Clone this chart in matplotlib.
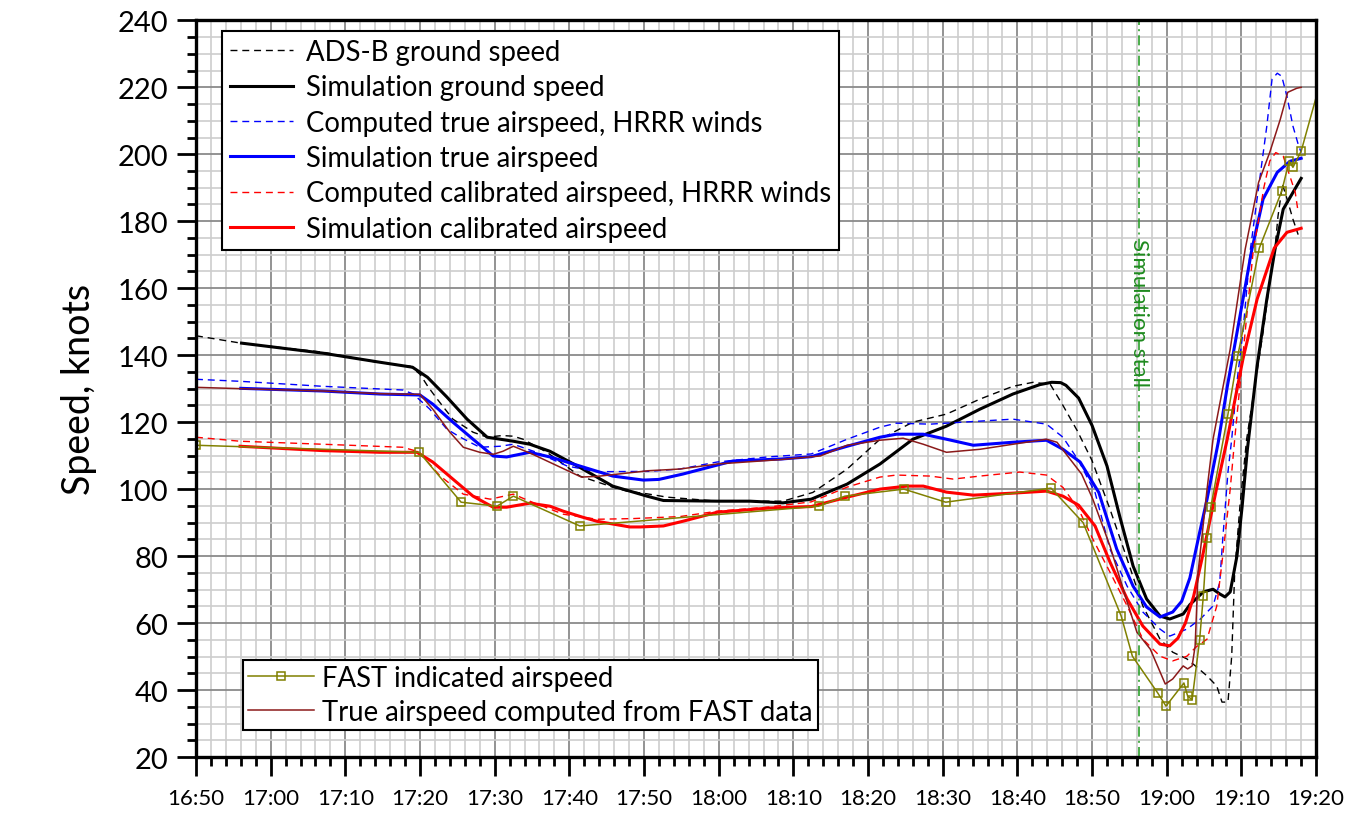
import matplotlib
matplotlib.use('Agg')
import matplotlib.pyplot as plt
from matplotlib.ticker import MultipleLocator, FuncFormatter

plt.rcParams['font.family'] = ['Lato', 'DejaVu Sans']

# time in minutes after 16:50, speed in knots
T0 = 16 * 60 + 50

adsb_t = [0, 6, 17, 24.2, 28.7, 30.0, 31.1, 32.3, 34.4, 37.1, 39, 41, 42.5, 43.8, 47.0, 51.4, 55.8,
          57.7, 60.4, 63.1, 69.8, 78.6, 82.6, 87.2, 91.6, 96.0, 100.5, 105, 109.4, 112.1, 114.4,
          116.1, 118.0, 120.0, 122.4, 124.7, 126.8, 129.1, 130.8, 132.7, 134.0, 135.4, 136.7,
          137.4, 138.2, 138.7, 139.1, 139.8, 140.7, 142.9, 143.8, 144.5, 144.9, 145.5, 146.2,
          146.9, 147.6]
adsb_v = [145.8, 143.6, 140.9, 137.9, 136.7, 134.3, 130.5, 126.9, 120.9, 117.0, 115.5, 116.0, 115.8,
          114.9, 111.0, 103.9, 100.6, 99.4, 98.6, 97.6, 96.4, 96.4, 99.0, 106, 114.9, 120, 122.4,
          126.9, 130.7, 131.9, 131.3, 125, 117.5, 108.5, 94, 79.1, 65.1, 55.2, 51.3, 49.3, 46.9,
          44.2, 41.2, 36.4, 36.4, 50.1, 75.2, 94.9, 114.9, 146.9, 161.8, 172, 181.5, 191, 186,
          180.6, 176]

sim_gs_t = [6.1, 17, 24.6, 29, 31, 33.6, 36.3, 39, 42.5, 44.7, 47.4, 51.4, 55.8, 60.4, 62.6, 69.8,
            74.2, 78.6, 82.4, 87.2, 91.6, 96.0, 100.5, 105.0, 109.4, 113.0, 114.6, 115.8, 116.5,
            118.2, 120.0, 122.0, 123.7, 125.5, 127.3, 129.1, 130.4, 132.2, 133.1, 134.9, 136.2,
            137.1, 137.8, 138.5, 139.4, 140.1, 140.8, 142.1, 143.4, 144.5, 145.6, 148.0]
sim_gs_v = [143.6, 140.6, 137.9, 136.4, 133.4, 127.5, 120.9, 115.5, 114.3, 113.4, 111.3, 106.5,
            100.9, 97.9, 96.6, 96.4, 96.4, 95.9, 97.0, 101.5, 107.5, 114.9, 118.8, 123.9, 128.4,
            131.2, 131.9, 131.8, 131.0, 127.2, 119, 106.9, 91.9, 77.0, 67.2, 62.1, 61.2, 62.7, 65.5,
            69.3, 70.1, 68.7, 67.8, 69.3, 80, 94.9, 111.9, 136.7, 156.7, 171.6, 183.6, 192.8]

hrrr_tas_t = [0, 5.9, 17, 27.7, 29.1, 31.3, 33.6, 35.4, 38, 40.7, 42.5, 45.6, 49.7, 53.7, 60.6, 64.8,
              69.8, 76.5, 82.4, 87.2, 91.6, 93.8, 98.3, 102.7, 109.4, 113.9, 116.1, 118.2, 120.4,
              122.4, 124.7, 126.8, 129.1, 130.4, 132.7, 134.5, 136.2, 137.1, 137.5, 138.2, 138.7,
              139.4, 140.2, 141.2, 142.5, 143.4, 144.1, 144.8, 145.4, 146.1, 146.9, 147.6, 148]
hrrr_tas_v = [132.8, 132.2, 130.7, 129.6, 128.4, 123.9, 117.9, 115.5, 112.5, 112.8, 113.4, 111,
              106.9, 105.2, 105.3, 106, 108.1, 109.6, 110.5, 114.9, 118.5, 119.7, 119.4, 120, 120.9,
              119.4, 115.5, 108.5, 99, 82.1, 71, 63.3, 58.2, 56.1, 58.2, 61.2, 65.1, 72.2, 85.1,
              105.1, 114.9, 131.9, 146.9, 171.6, 193.4, 208.4, 222.4, 224.2, 223.3, 217.3, 208.4,
              203, 200.5]

sim_tas_t = [6, 17, 24.6, 30, 31.7, 34.4, 37.1, 39.8, 41.6, 44.7, 47.6, 51.4, 55.8, 59.9, 62, 65.2,
             71.9, 78.4, 82.4, 87.2, 91.6, 93.8, 97.4, 100.5, 104.1, 109.4, 113.9, 116.1, 118.4,
             120.9, 123.3, 125.5, 127.3, 129.1, 130.8, 132.0, 133.1, 134.3, 135.4, 136.9, 138.1,
             139.8, 141.4, 142.9, 144.8, 146.5, 148]
sim_tas_v = [130.1, 129.3, 128.4, 128.1, 125.4, 120, 114.9, 109.9, 109.6, 111, 109.5, 106.9, 103.9,
             102.7, 102.9, 104.5, 108.4, 109.0, 109.7, 112.8, 115.5, 116.4, 116.4, 114.9, 113.1,
             114.0, 114.6, 111.9, 108.1, 99, 82.1, 71.0, 64.8, 61.8, 63.3, 66.5, 73.5, 86, 97,
             114.0, 130.5, 151.6, 171.6, 186.6, 194.6, 197.9, 198.8]

hrrr_cas_t = [0, 5.9, 17, 27.7, 29.6, 30.5, 32.7, 35.8, 39.4, 42.5, 44.7, 49.2, 53.7, 58.5, 64.8,
              69.8, 76.5, 82.4, 87.2, 91.6, 93.8, 98.3, 101.4, 105, 110.3, 113.9, 116.1, 118.2,
              120.1, 122.4, 124.7, 126.8, 129.1, 130.8, 132.7, 134.0, 135.4, 136.7, 137.5, 138.5,
              139.1, 140.5, 141.6, 142.2, 143.0, 143.8, 144.6, 145.6, 146.5, 147.2, 147.6]
hrrr_cas_v = [115.5, 114.3, 113.4, 112.5, 111.3, 109.5, 103.9, 98.5, 97, 98.5, 96.4, 92.5, 91,
              91.2, 91.8, 93.4, 94.6, 96.2, 100.6, 103.6, 104.2, 103.9, 103, 103.9, 105.1, 104.2,
              100.5, 94, 85.1, 75.2, 65.1, 55.2, 50.1, 48.7, 50.1, 53, 55.2, 65.1, 80, 100, 114.9,
              146.9, 171.6, 179, 190, 198, 200.5, 199.4, 193.4, 188.7, 182.7]

sim_cas_t = [5.9, 17, 24.6, 29.6, 31.7, 34.4, 37.1, 39.8, 41.6, 44.7, 47.4, 49.2, 51.8, 53.7, 58.1,
             59.5, 62.6, 65.2, 69.8, 76.5, 82.4, 87.2, 91.6, 95.2, 97.4, 100.5, 104.1, 109.4, 113.9,
             116.1, 118.2, 120.4, 122.4, 124.7, 126.8, 129.1, 130.4, 131.5, 132.5, 133.6, 134.7,
             136.7, 138.1, 140.2, 142.1, 144.4, 146.1, 148]
sim_cas_v = [112.8, 111.5, 111, 111, 108.1, 103, 97.9, 94.6, 94.6, 95.8, 94.9, 93.4, 91.6, 90.4,
             88.7, 88.7, 89, 90.4, 93.1, 94.3, 94.8, 97.6, 100, 100.9, 100.9, 99.1, 98.2, 98.8, 99.4,
             97.9, 95.2, 89, 78.2, 67.2, 59.1, 53.7, 53.2, 55.5, 60, 68, 79, 100.5, 114.9, 138.8,
             156.7, 172, 176.7, 177.9]

fast_ias_t = [0, 29.9, 35.5, 40.3, 42.5, 51.4, 83.4, 86.9, 94.8, 100.4, 114.5, 118.8, 123.9, 125.4,
              128.8, 129.9, 132.3, 132.8, 133.4, 134.4, 134.9, 135.4, 135.9, 138.2, 139.5, 142.4,
              145.4, 146.4, 146.9, 148, 151]
fast_ias_v = [113.1, 111, 96.1, 94.9, 97.9, 89, 94.9, 97.9, 100, 96.1, 100.3, 90, 62.1, 50.1, 39.1,
              35.2, 42.1, 38.2, 37.1, 54.9, 68.1, 85.4, 94.6, 122.4, 139.7, 172, 189, 198, 196.1,
              200.9, 225]

fast_tas_t = [0, 6, 17, 24.6, 30, 31.7, 34, 35.8, 38, 39.8, 41.1, 42.5, 45.1, 51.6, 53.7, 60.6, 64.8,
              69.8, 78.2, 83.6, 87.2, 91.6, 94.7, 97.4, 100.5, 105, 109.4, 113.9, 115.3, 118.6,
              120.1, 122.4, 124.7, 126, 127.8, 129.8, 130.8, 132.2, 132.8, 133.4, 133.8, 134.2,
              135.4, 136.2, 138.5, 140.5, 142.3, 143.8, 145.2, 146.2, 147.4, 148.0]
fast_tas_v = [130.4, 130, 129.3, 128.5, 128.3, 123.9, 117, 112.5, 111, 110.4, 111.3, 112.8, 110.4,
              103.6, 103.8, 105.5, 106, 107.5, 108.8, 109.9, 113.1, 114.6, 115.2, 113.4, 111, 111.9,
              113.4, 114.9, 114, 104.5, 97, 83, 66.3, 57.3, 52.2, 41.8, 43.3, 47.2, 46.3, 47.2, 53.1,
              75.2, 100, 114.9, 141.8, 171.6, 191.6, 200.6, 210.4, 218.5, 219.7, 220]

stall_t = 126.3


def tx(ts):
    return [T0 + t for t in ts]


fig = plt.figure(figsize=(13.61, 8.2), dpi=100)
ax = fig.add_axes([0.144, 0.0756, 0.823, 0.8984])

dash = (0, (5, 3.5))
l1, = ax.plot(tx(adsb_t), adsb_v, color='black', lw=1.0, linestyle=dash, label='ADS-B ground speed')
l2, = ax.plot(tx(sim_gs_t), sim_gs_v, color='black', lw=2.2, label='Simulation ground speed')
l3, = ax.plot(tx(hrrr_tas_t), hrrr_tas_v, color='#0000ff', lw=1.0, linestyle=dash,
              label='Computed true airspeed, HRRR winds')
l4, = ax.plot(tx(sim_tas_t), sim_tas_v, color='#0000ff', lw=2.2, label='Simulation true airspeed')
l5, = ax.plot(tx(hrrr_cas_t), hrrr_cas_v, color='#ff0000', lw=1.0, linestyle=dash,
              label='Computed calibrated airspeed, HRRR winds')
l6, = ax.plot(tx(sim_cas_t), sim_cas_v, color='#ff0000', lw=2.2, label='Simulation calibrated airspeed')
l7, = ax.plot(tx(fast_ias_t), fast_ias_v, color='#808000', lw=1.1, marker='s', markersize=6,
              markerfacecolor='none', markeredgewidth=1.1, label='FAST indicated airspeed')
l8, = ax.plot(tx(fast_tas_t), fast_tas_v, color='#8b1a1a', lw=1.1,
              label='True airspeed computed from FAST data')

ax.axvline(T0 + stall_t, color='#2ca02c', lw=1.2, linestyle=(0, (6, 2.5, 1.2, 2.5)))
ax.text(T0 + stall_t, 175, 'Simulation stall', rotation=-90, color='#1f8a1f', fontsize=16,
        ha='center', va='top')

ax.set_xlim(T0, T0 + 150)
ax.set_ylim(20, 240)
ax.xaxis.set_major_locator(MultipleLocator(10))
ax.xaxis.set_minor_locator(MultipleLocator(2))
ax.yaxis.set_major_locator(MultipleLocator(20))
ax.yaxis.set_minor_locator(MultipleLocator(5))
ax.xaxis.set_major_formatter(FuncFormatter(lambda x, p: '%d:%02d' % (int(round(x)) // 60, int(round(x)) % 60)))

ax.set_axisbelow(True)
ax.grid(which='minor', color='#cdcdcd', lw=1.2)
ax.grid(which='major', color='#8a8a8a', lw=1.3)

for s in ax.spines.values():
    s.set_linewidth(2.4)
ax.tick_params(which='major', direction='out', length=14, width=2.0)
ax.tick_params(which='minor', direction='out', length=6.5, width=2.0)
ax.tick_params(axis='x', which='major', labelsize=16, pad=8)
ax.tick_params(axis='y', which='major', labelsize=21, pad=6)
ax.set_ylabel('Speed, knots', fontsize=27, labelpad=15)

leg1 = ax.legend(handles=[l1, l2, l3, l4, l5, l6], loc='upper left', bbox_to_anchor=(0.023, 0.986),
                 borderaxespad=0, fontsize=19.8, frameon=True, fancybox=False, framealpha=1,
                 edgecolor='black', handlelength=2.3, handletextpad=0.45, labelspacing=0.34,
                 borderpad=0.3)
leg1.get_frame().set_linewidth(1.5)
ax.add_artist(leg1)
leg2 = ax.legend(handles=[l7, l8], loc='lower left', bbox_to_anchor=(0.042, 0.0366),
                 borderaxespad=0, fontsize=19.8, frameon=True, fancybox=False, framealpha=1,
                 edgecolor='black', handlelength=2.4, handletextpad=0.3, labelspacing=0.3,
                 borderpad=0.18)
leg2.get_frame().set_linewidth(1.5)

fig.savefig('out.png', dpi=100)
